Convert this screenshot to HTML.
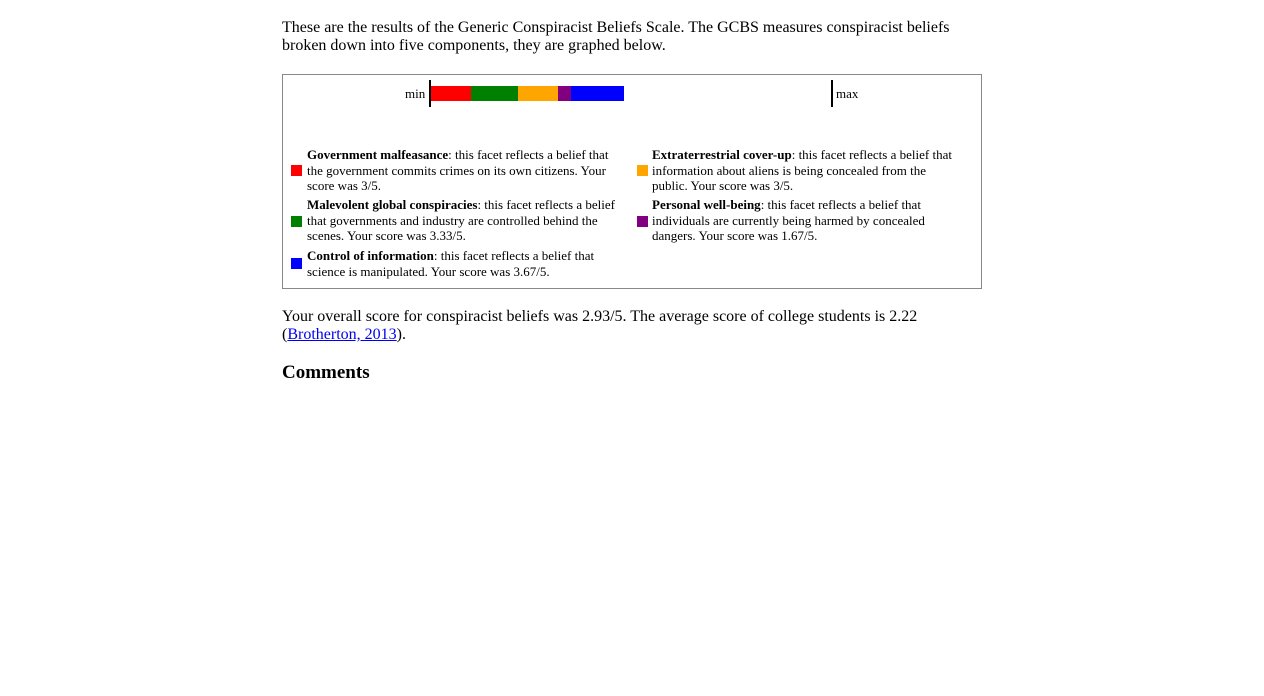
<!DOCTYPE html>
<html><head><meta charset="utf-8"><style>
body{margin:0;background:#fff;font-family:"Liberation Serif",serif;color:#000;width:1264px;height:696px;position:relative;overflow:hidden}
p{margin:0;position:absolute;left:282px;width:700px;font-size:16px;line-height:18px}
#box{position:absolute;left:282px;top:74px;width:698px;height:213px;border:1px solid #888}
.lbl{position:absolute;font-size:13px}
.vl{position:absolute;width:2px;background:#000;top:5px;height:27px}
.seg{position:absolute;top:11px;height:15px}
.ent{position:absolute;font-size:13px;line-height:15.5px;width:318px}
.sw{position:absolute;width:11px;height:11px}
a{color:#00e}
</style></head><body>
<p style="top:19px">These are the results of the Generic Conspiracist Beliefs Scale. The GCBS measures conspiracist beliefs broken down into five components, they are graphed below.</p>
<div id="box">
<span class="lbl" style="left:122px;top:11px">min</span>
<div class="vl" style="left:146px"></div>
<div class="vl" style="left:548px"></div>
<span class="lbl" style="left:553px;top:11px">max</span>
<div id="bar"></div>
<div class="sw" style="left:8px;top:90px;background:red"></div>
<div class="ent" style="left:24px;top:72px"><b>Government malfeasance</b>: this facet reflects a belief that the government commits crimes on its own citizens. Your score was 3/5.</div>
<div class="sw" style="left:8px;top:141px;background:green"></div>
<div class="ent" style="left:24px;top:122px"><b>Malevolent global conspiracies</b>: this facet reflects a belief that governments and industry are controlled behind the scenes. Your score was 3.33/5.</div>
<div class="sw" style="left:8px;top:183px;background:blue"></div>
<div class="ent" style="left:24px;top:173px"><b>Control of information</b>: this facet reflects a belief that science is manipulated. Your score was 3.67/5.</div>
<div class="sw" style="left:354px;top:90px;background:orange"></div>
<div class="ent" style="left:369px;top:72px;width:310px"><b>Extraterrestrial cover-up</b>: this facet reflects a belief that information about aliens is being concealed from the public. Your score was 3/5.</div>
<div class="sw" style="left:354px;top:141px;background:purple"></div>
<div class="ent" style="left:369px;top:122px;width:310px"><b>Personal well-being</b>: this facet reflects a belief that individuals are currently being harmed by concealed dangers. Your score was 1.67/5.</div>
</div>
<p style="top:308px">Your overall score for conspiracist beliefs was 2.93/5. The average score of college students is 2.22 (<a href="#">Brotherton, 2013</a>).</p>
<p style="top:364px;font-size:19px;font-weight:bold">Comments</p>
<script>
const categories=["government","malevolent","extraterrestrial","wellbeing","control"];
const scores=[3,3.33,3,1.67,3.67];
const colors=["red","green","orange","purple","blue"];
const bar=document.getElementById('bar');
const x0=148, unit=80;
function w(s){return (s-1)/4*unit;}
let x=x0;
scores.forEach((s,i)=>{
  const d=document.createElement('div');
  d.className='seg';
  
  
  d.style.left=x+'px';d.style.width=w(s)+'px';d.style.background=colors[i];
  bar.appendChild(d);x+=w(s);
});
</script>
</body></html>
